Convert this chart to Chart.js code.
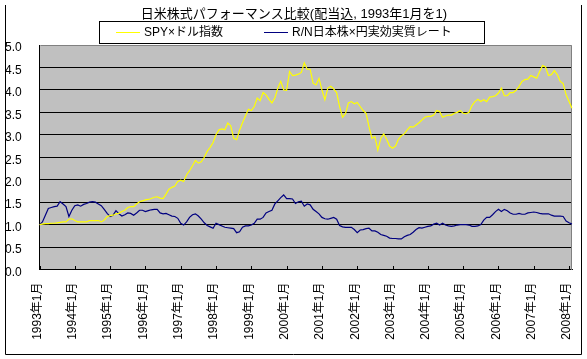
<!DOCTYPE html>
<html>
<head>
<meta charset="utf-8">
<script src="https://cdn.jsdelivr.net/npm/chart.js@4"></script>
<style>
html,body{margin:0;padding:0;background:#fff;}
#wrap{width:587px;height:359px;position:relative;}
</style>
</head>
<body>
<div id="wrap"><canvas id="c" width="587" height="359"></canvas></div>
<script>
const titleText = '日米株式パフォーマンス比較(配当込, 1993年1月を1)';
const seriesNames = ['SPY×ドル指数', 'R/N日本株×円実効実質レート'];
const tickLabels = ['1993年1月','1994年1月','1995年1月','1996年1月','1997年1月','1998年1月','1999年1月','2000年1月','2001年1月','2002年1月','2003年1月','2004年1月','2005年1月','2006年1月','2007年1月','2008年1月'];
const yTickValues = [0,0.5,1,1.5,2,2.5,3,3.5,4,4.5,5];

const categories = [];
for (let y = 1993; y <= 2008; y++) {
  for (let m = 1; m <= 12; m++) {
    if (categories.length < 182) categories.push(y + '年' + m + '月');
  }
}

const spyValues = [
 1.00,1.01,1.02,1.02,1.03,1.03,1.04,1.05,1.06,1.06,1.12,1.13,
 1.09,1.06,1.06,1.06,1.06,1.09,1.09,1.09,1.09,1.06,1.10,1.18,
 1.20,1.21,1.24,1.25,1.29,1.32,1.38,1.40,1.40,1.46,1.51,1.53,
 1.55,1.56,1.58,1.61,1.62,1.59,1.58,1.68,1.79,1.83,1.86,1.96,
 1.99,1.96,2.11,2.20,2.31,2.43,2.37,2.40,2.50,2.63,2.72,2.83,
 3.00,3.11,3.13,3.11,3.26,3.20,2.92,2.89,3.10,3.27,3.42,3.57,
 3.54,3.63,3.82,3.76,3.94,3.89,3.79,3.71,3.82,4.04,4.19,4.00,
 3.99,4.41,4.32,4.33,4.35,4.39,4.60,4.46,4.46,4.15,4.11,4.26,
 4.00,3.78,4.04,4.08,4.02,3.94,3.63,3.39,3.47,3.71,3.74,3.69,
 3.72,3.63,3.54,3.48,3.18,2.92,2.96,2.66,2.92,3.02,2.90,2.75,
 2.70,2.75,2.90,2.98,3.02,3.11,3.18,3.17,3.22,3.27,3.33,3.39,
 3.41,3.41,3.44,3.54,3.52,3.39,3.42,3.44,3.44,3.48,3.50,3.54,
 3.48,3.47,3.50,3.65,3.74,3.79,3.74,3.78,3.74,3.84,3.85,3.87,
 3.93,4.04,3.87,3.87,3.94,3.94,3.99,4.08,4.19,4.23,4.24,4.32,
 4.29,4.26,4.41,4.54,4.51,4.32,4.34,4.43,4.34,4.19,4.14,3.89,
 3.74,3.59
];

const japanValues = [
 1.00,1.06,1.21,1.36,1.38,1.40,1.41,1.51,1.46,1.40,1.18,1.32,
 1.42,1.44,1.41,1.45,1.47,1.50,1.51,1.50,1.46,1.42,1.34,1.25,
 1.18,1.21,1.31,1.24,1.19,1.22,1.26,1.25,1.21,1.26,1.32,1.32,
 1.29,1.31,1.33,1.34,1.34,1.26,1.24,1.25,1.22,1.19,1.18,1.14,
 1.03,0.99,1.06,1.16,1.22,1.24,1.19,1.12,1.04,0.98,0.95,0.92,
 1.03,1.00,0.97,0.94,0.93,0.92,0.91,0.82,0.84,0.94,0.97,0.97,
 0.99,1.03,1.12,1.12,1.16,1.26,1.29,1.32,1.46,1.53,1.60,1.66,
 1.58,1.58,1.57,1.47,1.51,1.52,1.41,1.46,1.44,1.34,1.29,1.24,
 1.16,1.13,1.12,1.14,1.16,1.12,0.98,0.95,0.94,0.94,0.94,0.89,
 0.82,0.88,0.89,0.91,0.92,0.86,0.86,0.83,0.78,0.76,0.74,0.70,
 0.69,0.69,0.68,0.68,0.73,0.76,0.78,0.83,0.89,0.93,0.92,0.94,
 0.96,0.97,1.01,1.03,0.99,1.03,0.99,0.97,0.96,0.97,0.99,1.00,
 1.00,1.00,0.99,0.96,0.96,0.97,1.00,1.10,1.16,1.16,1.22,1.29,
 1.34,1.29,1.34,1.31,1.26,1.23,1.23,1.25,1.23,1.23,1.26,1.27,
 1.28,1.27,1.25,1.24,1.24,1.24,1.21,1.19,1.19,1.19,1.18,1.08,
 1.04,1.01
];

const seriesColors = ['#ffff00', '#000080'];
const FONT = "'Liberation Sans','Noto Sans CJK JP',sans-serif";

const framePlugin = {
  id: 'frame',
  beforeDraw(chart) {
    const {ctx, chartArea: a} = chart;
    ctx.save();
    ctx.fillStyle = '#ffffff';
    ctx.fillRect(0, 0, chart.width, chart.height);
    ctx.fillStyle = '#c0c0c0';
    ctx.fillRect(a.left, a.top, a.right - a.left, a.bottom - a.top);
    ctx.restore();
  },
  beforeDatasetsDraw(chart) {
    const {ctx, chartArea: a, scales} = chart;
    ctx.save();
    ctx.strokeStyle = '#808080';
    ctx.lineWidth = 1;
    ctx.beginPath();
    ctx.moveTo(Math.round(a.left) + 0.5, Math.round(a.top) + 0.5);
    ctx.lineTo(Math.round(a.right) - 0.5, Math.round(a.top) + 0.5);
    ctx.lineTo(Math.round(a.right) - 0.5, Math.round(a.bottom));
    ctx.stroke();
    // inward tick marks at each January
    ctx.strokeStyle = '#000';
    ctx.beginPath();
    tickLabels.forEach(lbl => {
      const idx = categories.indexOf(lbl);
      const x = Math.round(scales.x.getPixelForValue(idx)) + 0.5;
      ctx.moveTo(x, Math.round(a.bottom));
      ctx.lineTo(x, Math.round(a.bottom) - 4);
    });
    ctx.stroke();
    ctx.restore();
  },
  afterDraw(chart) {
    const {ctx} = chart;
    ctx.save();
    // outer frame
    ctx.strokeStyle = '#000';
    ctx.lineWidth = 1;
    ctx.beginPath();
    ctx.moveTo(5.5, 5);
    ctx.lineTo(5.5, 354.5);
    ctx.lineTo(581.5, 354.5);
    ctx.lineTo(581.5, 5);
    ctx.stroke();
    // title
    ctx.fillStyle = '#000';
    ctx.font = '13px ' + FONT;
    ctx.textAlign = 'center';
    ctx.textBaseline = 'middle';
    ctx.fillText(titleText, 294, 14);
    // legend box
    ctx.fillStyle = '#fff';
    ctx.fillRect(99, 21, 385, 22);
    ctx.strokeStyle = '#000';
    ctx.strokeRect(99.5, 21.5, 385, 22);
    ctx.font = '12px ' + FONT;
    ctx.textAlign = 'left';
    const items = [{x: 116, tx: 144}, {x: 264, tx: 292}];
    chart.data.datasets.forEach((ds, i) => {
      ctx.strokeStyle = ds.borderColor;
      ctx.beginPath();
      ctx.moveTo(items[i].x, 32.5);
      ctx.lineTo(items[i].x + 24, 32.5);
      ctx.stroke();
      ctx.fillStyle = '#000';
      ctx.fillText(ds.label, items[i].tx, 33);
    });
    ctx.restore();
  }
};

new Chart(document.getElementById('c'), {
  type: 'line',
  data: {
    labels: categories,
    datasets: [
      {label: seriesNames[0], data: spyValues, borderColor: seriesColors[0], borderWidth: 1.2, pointRadius: 0, tension: 0, fill: false},
      {label: seriesNames[1], data: japanValues, borderColor: seriesColors[1], borderWidth: 1.2, pointRadius: 0, tension: 0, fill: false}
    ]
  },
  options: {
    responsive: false,
    animation: false,
    devicePixelRatio: 1,
    layout: {padding: {left: 5, right: 15, top: 45, bottom: 0}},
    plugins: {legend: {display: false}, title: {display: false}, tooltip: {enabled: false}},
    scales: {
      x: {
        type: 'category',
        offset: false,
        grid: {display: true, drawOnChartArea: false, drawTicks: false},
        border: {display: true, color: '#000', width: 1},
        ticks: {
          autoSkip: false, minRotation: 90, maxRotation: 90, padding: 13, labelOffset: -2,
          color: '#000', font: {family: FONT, size: 12},
          callback: function(v) { const l = categories[v]; return tickLabels.includes(l) ? l : ''; }
        },
        afterFit(scale) { scale.height = 89.5; scale.paddingLeft = 0; scale.paddingRight = 0; }
      },
      y: {
        min: 0, max: 5,
        afterBuildTicks(scale) { scale.ticks = yTickValues.map(v => ({value: v})); },
        grid: {drawTicks: false, color: ctx => (ctx.tick && ctx.tick.value === 5) ? 'rgba(0,0,0,0)' : '#000', lineWidth: 1},
        border: {display: true, color: '#000', width: 1},
        ticks: {crossAlign: 'far', labelOffset: 3, color: '#000', font: {family: FONT, size: 12},
          callback: v => Number(v).toFixed(1)},
        afterFit(scale) { scale.width = 34.5; scale.paddingTop = 0; scale.paddingBottom = 0; }
      }
    }
  },
  plugins: [framePlugin]
});
</script>
</body>
</html>
